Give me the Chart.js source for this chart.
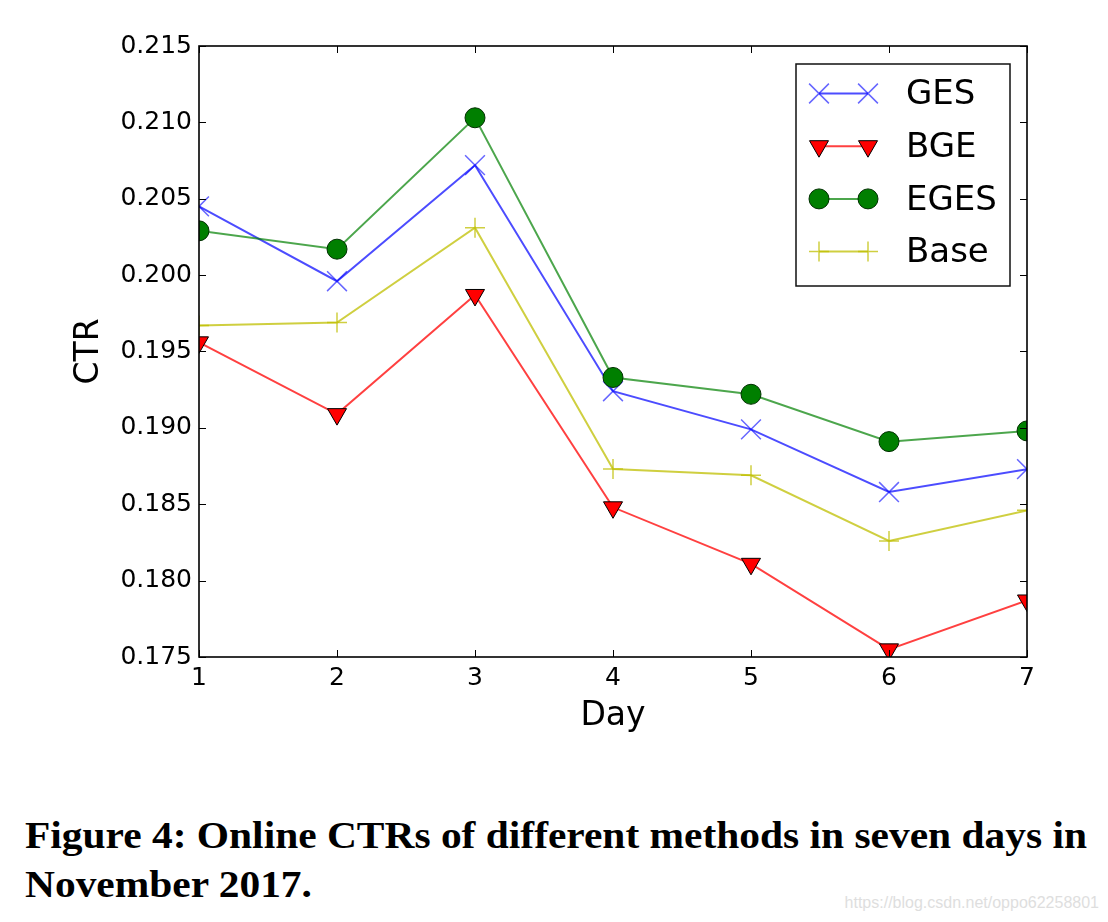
<!DOCTYPE html>
<html>
<head>
<meta charset="utf-8">
<script src="https://cdn.jsdelivr.net/npm/chart.js@4.4.1/dist/chart.umd.min.js"></script>
<style>
body { margin: 0; background: #fff; width: 1108px; height: 922px; overflow: hidden; position: relative; }
#c { position: absolute; left: 0; top: 0; }
.cap { position: absolute; left: 25px; font-family: "Liberation Serif", serif; font-weight: bold; font-size: 37px; line-height: 1; white-space: nowrap; transform-origin: 0 0; color: #000; }
#wm { position: absolute; right: 9px; top: 894px; font-family: "Liberation Sans", sans-serif; font-size: 16px; color: #dedede; }
</style>
</head>
<body>
<canvas id="c" width="1108" height="760"></canvas>
<div class="cap" id="cap1" style="top:817px">Figure 4: Online CTRs of different methods in seven days in</div>
<div class="cap" id="cap2" style="top:866px">November 2017.</div>
<div id="wm">https://blog.csdn.net/oppo62258801</div>
<script>
// values
const days = [1, 2, 3, 4, 5, 6, 7];
const ges  = [0.2045, 0.1996, 0.2072, 0.1924, 0.1899, 0.1858, 0.1873];
const bge  = [0.1956, 0.1909, 0.1987, 0.1848, 0.1811, 0.1755, 0.1787];
const eges = [0.2029, 0.2017, 0.2103, 0.1933, 0.1922, 0.1891, 0.1898];
const base = [0.1967, 0.1969, 0.2031, 0.1873, 0.1869, 0.1826, 0.1846];
const yTicks = [0.175, 0.180, 0.185, 0.190, 0.195, 0.200, 0.205, 0.210, 0.215];

const pts = arr => arr.map((v, i) => ({ x: days[i], y: v }));
const FONT = 'DejaVu Sans';

const datasets = [
  { label: 'GES', data: pts(ges), borderColor: 'rgba(0,0,255,0.7)', borderWidth: 2,
    pointStyle: 'crossRot', pointRadius: 14, pointBorderColor: 'rgba(0,0,255,0.6)', pointBorderWidth: 1.5, order: 3 },
  { label: 'BGE', data: pts(bge), borderColor: 'rgba(255,0,0,0.75)', borderWidth: 2,
    pointStyle: 'triangle', pointRotation: 180, pointRadius: 11, pointBackgroundColor: '#ff0000',
    pointBorderColor: '#000', pointBorderWidth: 1, order: 2 },
  { label: 'EGES', data: pts(eges), borderColor: 'rgba(0,128,0,0.7)', borderWidth: 2,
    pointStyle: 'circle', pointRadius: 10, pointBackgroundColor: '#007f00',
    pointBorderColor: '#003000', pointBorderWidth: 1, order: 1 },
  { label: 'Base', data: pts(base), borderColor: 'rgba(191,191,0,0.75)', borderWidth: 2,
    pointStyle: 'cross', pointRadius: 10, pointBorderColor: 'rgba(191,191,0,0.75)', pointBorderWidth: 1.5, order: 0 }
];
datasets.forEach(d => { d.fill = false; d.tension = 0; d.clip = 0; d.pointHoverRadius = d.pointRadius; });

// box, inward ticks on all four sides, and the legend
const frame = {
  id: 'frame',
  afterDraw(chart) {
    const { ctx, chartArea: a, scales: { x, y } } = chart;
    ctx.save();
    ctx.strokeStyle = '#000';
    ctx.lineWidth = 1;
    ctx.beginPath();
    days.forEach(d => {
      const px = Math.round(x.getPixelForValue(d)) + 0.5;
      ctx.moveTo(px, a.bottom); ctx.lineTo(px, a.bottom - 7);
      ctx.moveTo(px, a.top); ctx.lineTo(px, a.top + 7);
    });
    yTicks.forEach(v => {
      const py = Math.round(y.getPixelForValue(v)) + 0.5;
      ctx.moveTo(a.left, py); ctx.lineTo(a.left + 7, py);
      ctx.moveTo(a.right, py); ctx.lineTo(a.right - 7, py);
    });
    ctx.stroke();
    ctx.lineWidth = 1.6;
    ctx.strokeRect(a.left, a.top, a.right - a.left, a.bottom - a.top);

    // legend
    const lx = 796, ly = 64, lw = 214, lh = 222;
    ctx.fillStyle = '#fff';
    ctx.fillRect(lx, ly, lw, lh);
    ctx.strokeStyle = '#111';
    ctx.lineWidth = 1.5;
    ctx.strokeRect(lx, ly, lw, lh);
    chart.data.datasets.forEach((d, i) => {
      const ry = 93.5 + i * 52.7;
      ctx.strokeStyle = d.borderColor;
      ctx.lineWidth = d.borderWidth;
      ctx.beginPath(); ctx.moveTo(819, ry); ctx.lineTo(868, ry); ctx.stroke();
      [819, 868].forEach(mx => {
        ctx.fillStyle = d.pointBackgroundColor || 'transparent';
        ctx.strokeStyle = d.pointBorderColor;
        ctx.lineWidth = d.pointBorderWidth;
        Chart.helpers.drawPoint(ctx, { pointStyle: d.pointStyle, rotation: d.pointRotation || 0,
          radius: d.pointRadius, borderWidth: d.pointBorderWidth }, mx, ry);
      });
      ctx.fillStyle = '#000';
      ctx.font = '34px "' + FONT + '"';
      ctx.textAlign = 'left';
      ctx.textBaseline = 'middle';
      ctx.fillText(d.label, 906, ry + 2);
    });
    ctx.restore();
  }
};

new Chart(document.getElementById('c'), {
  type: 'line',
  data: { datasets },
  options: {
    responsive: false,
    animation: false,
    events: [],
    layout: { padding: { top: 46, right: 81, left: 0, bottom: 0 } },
    plugins: { legend: { display: false }, tooltip: { enabled: false } },
    scales: {
      x: {
        type: 'linear', min: 1, max: 7,
        afterBuildTicks: s => { s.ticks = days.map(v => ({ value: v })); },
        afterFit: s => { s.height = 103; },
        grid: { display: false, drawTicks: false },
        border: { display: false },
        ticks: { color: '#000', font: { family: FONT, size: 25 }, padding: 6, maxRotation: 0 },
        title: { display: true, text: 'Day', color: '#000', font: { family: FONT, size: 33 }, padding: { top: 0, bottom: 24 } }
      },
      y: {
        type: 'linear', min: 0.175, max: 0.215,
        afterBuildTicks: s => { s.ticks = yTicks.map(v => ({ value: v })); },
        afterFit: s => { s.width = 199; },
        grid: { display: false, drawTicks: false },
        border: { display: false },
        ticks: { color: '#000', font: { family: FONT, size: 25 }, padding: 7, callback: v => v.toFixed(3) },
        title: { display: true, text: 'CTR', color: '#000', font: { family: FONT, size: 33 }, padding: { top: 70, bottom: 0 } }
      }
    }
  },
  plugins: [frame]
});

// squeeze the caption to the width of the original serif
const c1 = document.getElementById('cap1'), c2 = document.getElementById('cap2');
const k = 1062 / c1.getBoundingClientRect().width;
c1.style.transform = c2.style.transform = 'scaleX(' + k + ')';
</script>
</body>
</html>
